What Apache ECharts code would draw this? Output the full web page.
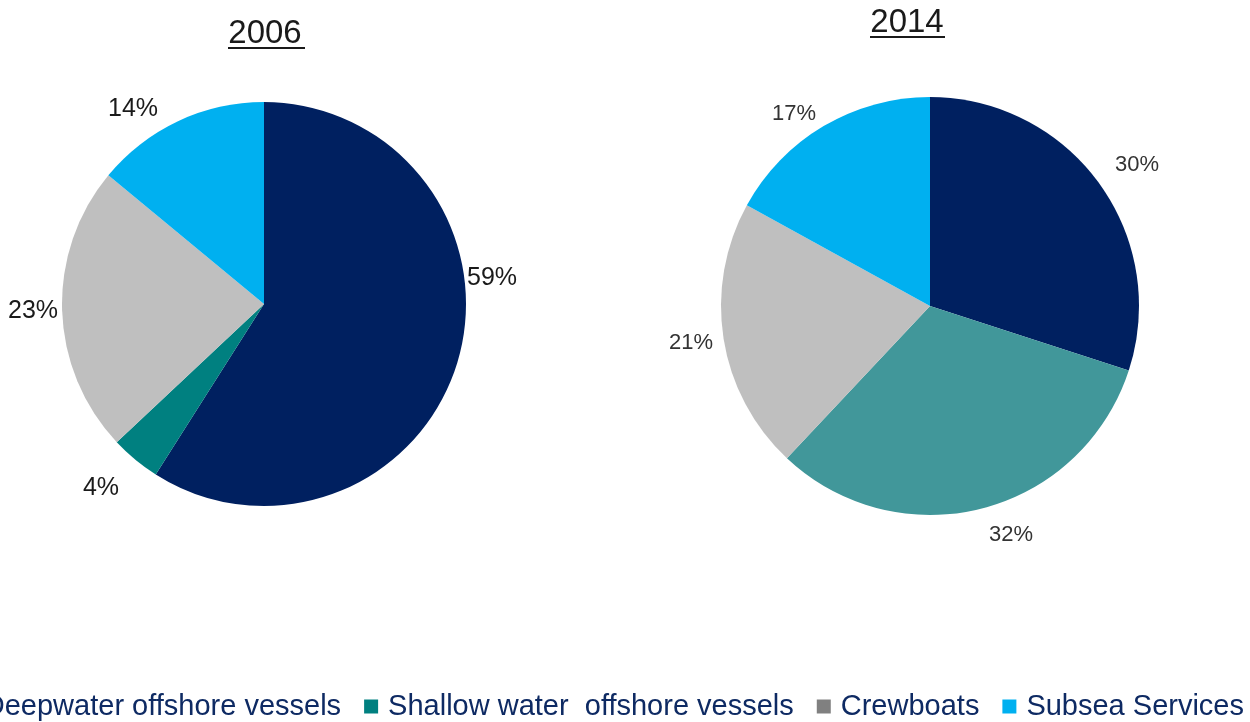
<!DOCTYPE html>
<html>
<head>
<meta charset="utf-8">
<script src="https://cdn.jsdelivr.net/npm/echarts@6/dist/echarts.min.js"></script>
<style>
  html, body { margin: 0; padding: 0; background: #fff; }
  #chart { width: 1250px; height: 722px; }
</style>
</head>
<body>
<div id="chart"></div>
<script>
// Segment names and shares (%) for the two years
const segments = ['Deepwater offshore vessels', 'Shallow water  offshore vessels', 'Crewboats', 'Subsea Services'];
const years = ['2006', '2014'];
const share2006 = [59, 4, 23, 14];
const share2014 = [30, 32, 21, 17];

const FONT = '"Liberation Sans", Arial, sans-serif';
const colors2006 = ['#002060', '#008080', '#BFBFBF', '#00B0F0'];
const colors2014 = ['#002060', '#41979A', '#BFBFBF', '#00B0F0'];
const legendColors = ['#002060', '#008080', '#808080', '#00B0F0'];

// Where each percentage label sits (centre of the text), per pie
const labelSpots = [
  [[492, 278], [101, 488], [33, 311], [133, 109]],
  [[1137, 165], [1011, 535], [691, 343], [794, 114]]
];

function pieData(values, palette) {
  return segments.map((name, i) => ({
    name: name,
    value: values[i],
    itemStyle: { color: palette[i] }
  }));
}

function placeLabels(pieIndex) {
  return function (params) {
    const p = labelSpots[pieIndex][params.dataIndex];
    return { x: p[0], y: p[1], align: 'center', verticalAlign: 'middle' };
  };
}

const chart = echarts.init(document.getElementById('chart'), null, { renderer: 'canvas' });

const titleStyle = { fontFamily: FONT, fontSize: 33, fill: '#1a1a1a', textAlign: 'center', textVerticalAlign: 'bottom' };

const option = {
  animation: false,
  backgroundColor: '#ffffff',
  graphic: [
    // year headings with underline
    { type: 'text', x: 265, y: 50, style: Object.assign({ text: years[0] }, titleStyle) },
    { type: 'rect', shape: { x: 228, y: 47, width: 77, height: 2 }, style: { fill: '#1a1a1a' } },
    { type: 'text', x: 907, y: 39, style: Object.assign({ text: years[1] }, titleStyle) },
    { type: 'rect', shape: { x: 870, y: 36, width: 75, height: 2 }, style: { fill: '#1a1a1a' } }
  ],
  legend: {
    data: segments.map((name, i) => ({ name: name, itemStyle: { color: legendColors[i] } })),
    orient: 'horizontal',
    right: 6,
    top: 692,
    width: 2000,
    padding: 0,
    icon: 'rect',
    itemWidth: 14,
    itemHeight: 14,
    itemGap: 23,
    selectedMode: false,
    textStyle: { fontFamily: FONT, fontSize: 29, color: '#0E2A63', padding: [0, 0, 0, 5] }
  },
  series: [
    {
      type: 'pie',
      center: [264, 304],
      radius: 202,
      startAngle: 90,
      clockwise: true,
      data: pieData(share2006, colors2006),
      label: {
        show: true, position: 'outside', formatter: '{c}%', overflow: 'none',
        fontFamily: FONT, fontSize: 25, color: '#1a1a1a'
      },
      labelLine: { show: false },
      labelLayout: placeLabels(0),
      emphasis: { disabled: true }
    },
    {
      type: 'pie',
      center: [930, 306],
      radius: 209,
      startAngle: 90,
      clockwise: true,
      data: pieData(share2014, colors2014),
      label: {
        show: true, position: 'outside', formatter: '{c}%', overflow: 'none',
        fontFamily: FONT, fontSize: 22, color: '#333333'
      },
      labelLine: { show: false },
      labelLayout: placeLabels(1),
      emphasis: { disabled: true }
    }
  ]
};

chart.setOption(option);
</script>
</body>
</html>
